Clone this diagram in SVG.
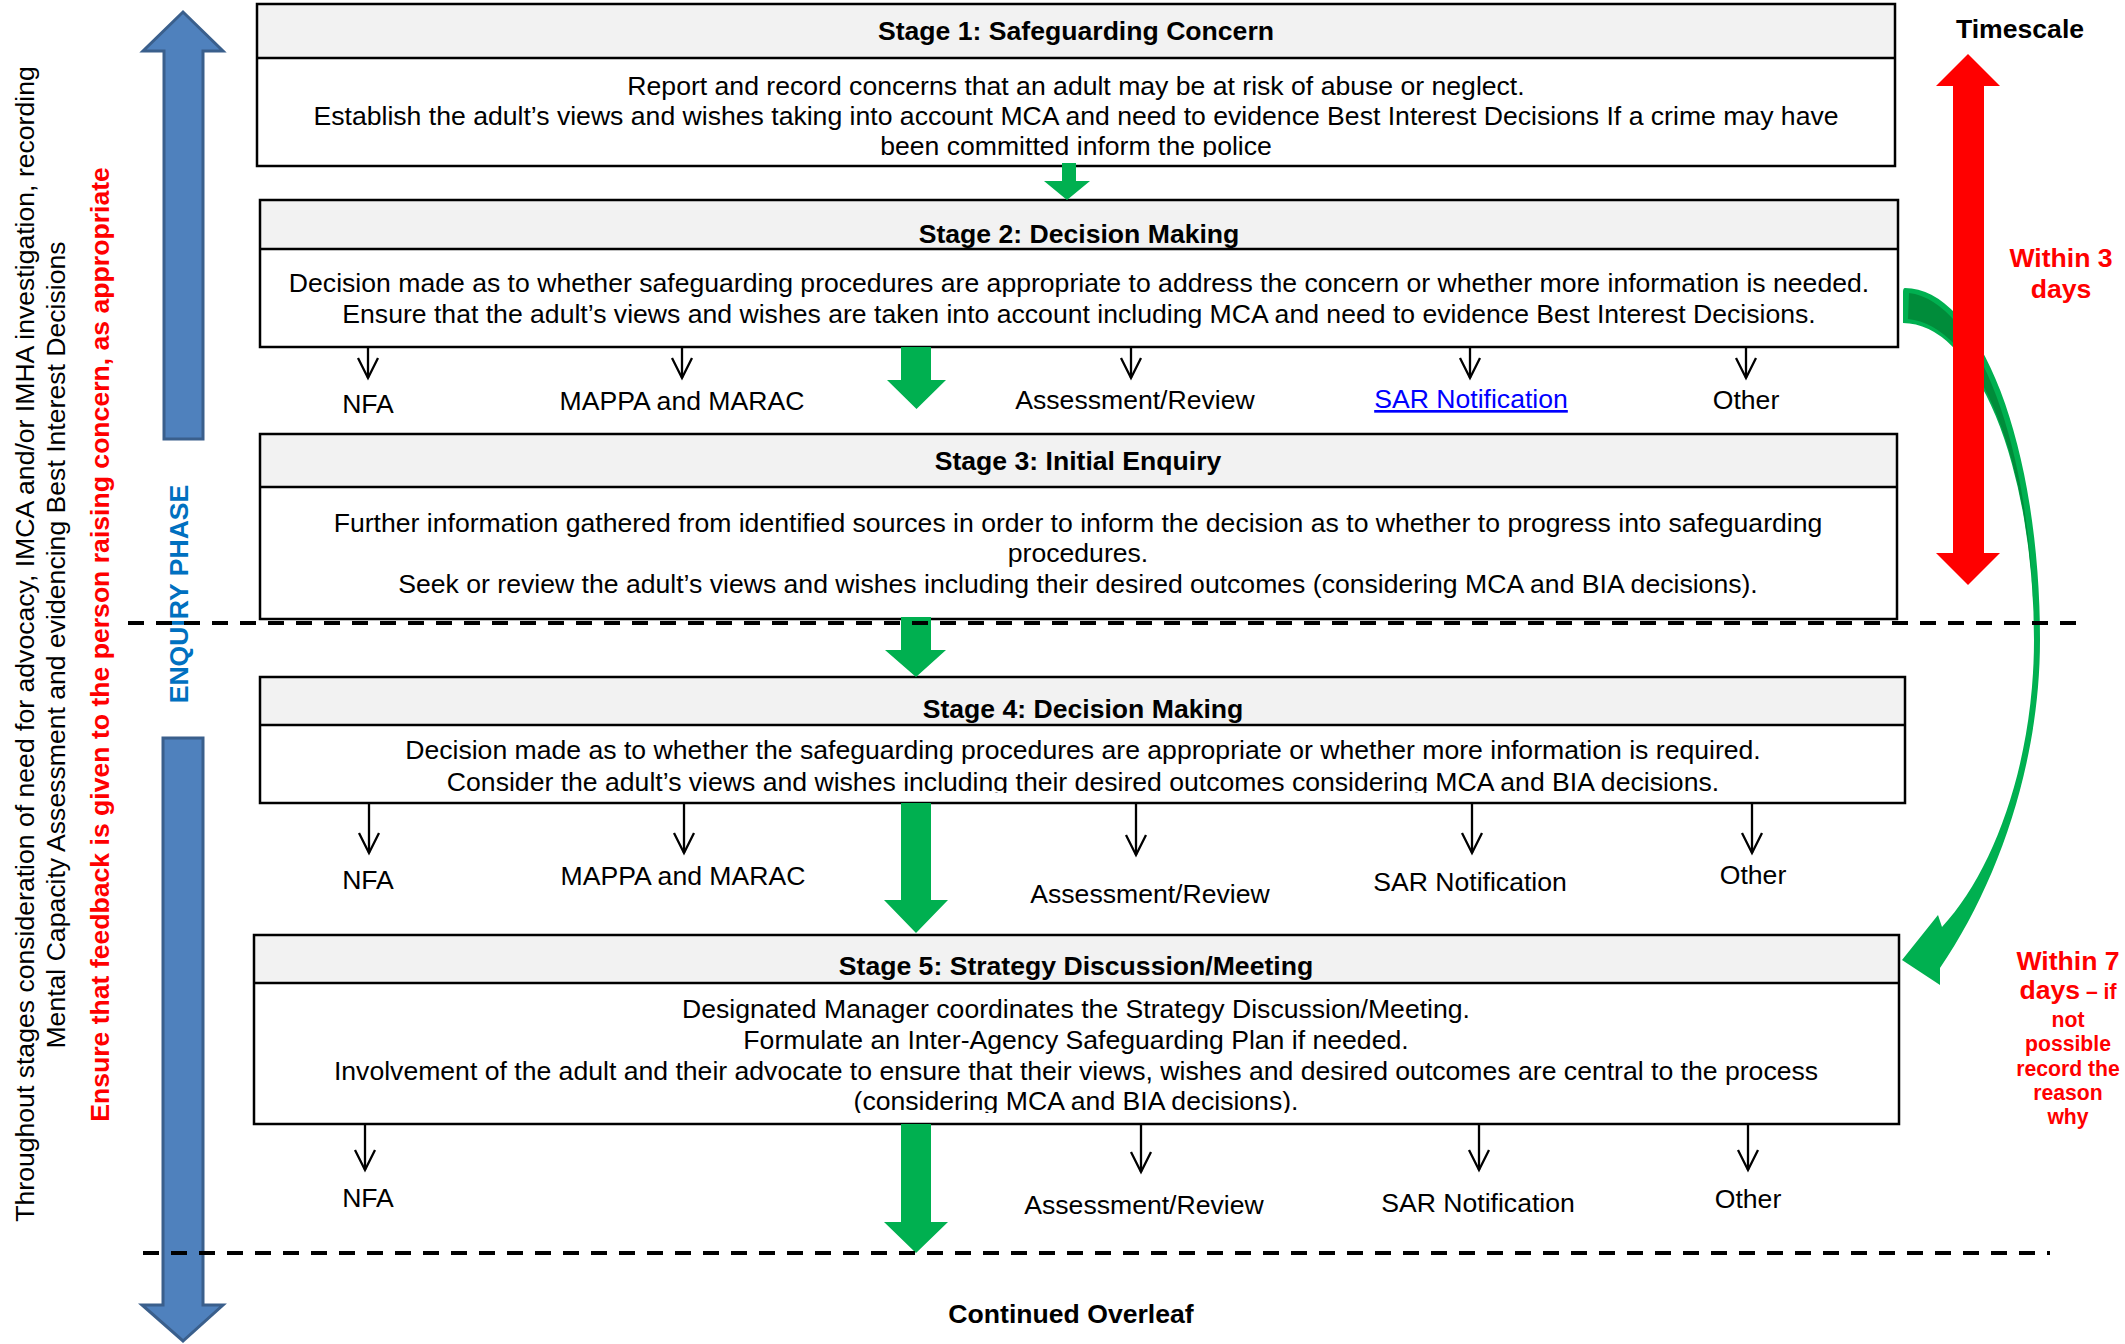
<svg xmlns="http://www.w3.org/2000/svg" width="2125" height="1344" viewBox="0 0 2125 1344">
<style>
text{font-family:"Liberation Sans",Arial,sans-serif;font-size:26.6px;fill:#000}
.t{font-weight:bold;text-anchor:middle}
.b{text-anchor:middle}
.lbl{text-anchor:middle}
.hdr{fill:#F2F2F2}
.box{fill:none;stroke:#000;stroke-width:2.5}
.sep{stroke:#000;stroke-width:2.5}
.sm{stroke:#000;stroke-width:2.3;fill:none}
.grn{fill:#00B050}
.dash{stroke:#000;stroke-width:4;stroke-dasharray:16 12;fill:none}
.red{fill:#FF0000;font-weight:bold;text-anchor:middle}
</style>
<defs>
<marker id="v" markerUnits="userSpaceOnUse" viewBox="-3 -13 26 26" markerWidth="26" markerHeight="26" refX="20" refY="0" orient="auto">
<path d="M0,-10 L20,0 L0,10" fill="none" stroke="#000" stroke-width="2.3"/>
</marker>
<clipPath id="c1"><rect x="257" y="58" width="1638" height="99"/></clipPath>
<clipPath id="c4"><rect x="260" y="725" width="1645" height="68"/></clipPath>
<clipPath id="c5"><rect x="254" y="983" width="1645" height="130"/></clipPath>
</defs>
<rect width="2125" height="1344" fill="#fff"/>

<g id="side-notes">
<text transform="translate(33.5,644) rotate(-90)" text-anchor="middle">Throughout stages consideration of need for advocacy, IMCA and/or IMHA investigation, recording</text>
<text transform="translate(65,645) rotate(-90)" text-anchor="middle">Mental Capacity Assessment and evidencing Best Interest Decisions</text>
<text transform="translate(108.5,644.5) rotate(-90)" text-anchor="middle" style="font-weight:bold;fill:#FF0000">Ensure that feedback is given to the person raising concern, as appropriate</text>
</g>

<g id="enquiry-phase">
<path d="M164,439 V51 H143 L183,12 L223,51 H203 V439 Z" fill="#4F81BD" stroke="#3A5F8C" stroke-width="3"/>
<path d="M163,738 H203 V1305 H223 L183,1341 L142,1305 H163 Z" fill="#4F81BD" stroke="#3A5F8C" stroke-width="3"/>
<text transform="translate(187.5,594) rotate(-90)" text-anchor="middle" style="font-weight:bold;fill:#0070C0">ENQUIRY PHASE</text>
</g>

<g id="stage1">
<rect x="257" y="4" width="1638" height="54" class="hdr"/>
<rect x="257" y="4" width="1638" height="162" class="box"/>
<line x1="257" y1="58" x2="1895" y2="58" class="sep"/>
<text x="1076" y="40" class="t">Stage 1: Safeguarding Concern</text>
<g clip-path="url(#c1)">
<text x="1076" y="95" class="b">Report and record concerns that an adult may be at risk of abuse or neglect.</text>
<text x="1076" y="125" class="b">Establish the adult’s views and wishes taking into account MCA and need to evidence Best Interest Decisions If a crime may have</text>
<text x="1076" y="155" class="b">been committed inform the police</text>
</g>
</g>

<g id="stage2">
<rect x="260" y="200" width="1638" height="49" class="hdr"/>
<rect x="260" y="200" width="1638" height="147" class="box"/>
<line x1="260" y1="249" x2="1898" y2="249" class="sep"/>
<text x="1079" y="243" class="t">Stage 2: Decision Making</text>
<text x="1079" y="292" class="b">Decision made as to whether safeguarding procedures are appropriate to address the concern or whether more information is needed.</text>
<text x="1079" y="323" class="b">Ensure that the adult’s views and wishes are taken into account including MCA and need to evidence Best Interest Decisions.</text>
</g>

<g id="stage2-outcomes">
<text x="368" y="413" class="lbl">NFA</text>
<text x="682" y="410" class="lbl">MAPPA and MARAC</text>
<text x="1135" y="409" class="lbl">Assessment/Review</text>
<text x="1471" y="408" class="lbl" style="fill:#0000FF;text-decoration:underline">SAR Notification</text>
<text x="1746" y="409" class="lbl">Other</text>
</g>

<g id="stage3">
<rect x="260" y="434" width="1637" height="53" class="hdr"/>
<rect x="260" y="434" width="1637" height="185" class="box"/>
<line x1="260" y1="487" x2="1897" y2="487" class="sep"/>
<text x="1078" y="470" class="t">Stage 3: Initial Enquiry</text>
<text x="1078" y="532" class="b">Further information gathered from identified sources in order to inform the decision as to whether to progress into safeguarding</text>
<text x="1078" y="562" class="b">procedures.</text>
<text x="1078" y="593" class="b">Seek or review the adult’s views and wishes including their desired outcomes (considering MCA and BIA decisions).</text>
</g>

<g id="stage4">
<rect x="260" y="677" width="1645" height="48" class="hdr"/>
<rect x="260" y="677" width="1645" height="126" class="box"/>
<line x1="260" y1="725" x2="1905" y2="725" class="sep"/>
<text x="1083" y="718" class="t">Stage 4: Decision Making</text>
<g clip-path="url(#c4)">
<text x="1083" y="759" class="b">Decision made as to whether the safeguarding procedures are appropriate or whether more information is required.</text>
<text x="1083" y="791" class="b">Consider the adult’s views and wishes including their desired outcomes considering MCA and BIA decisions.</text>
</g>
</g>

<g id="stage4-outcomes">
<text x="368" y="889" class="lbl">NFA</text>
<text x="683" y="885" class="lbl">MAPPA and MARAC</text>
<text x="1150" y="903" class="lbl">Assessment/Review</text>
<text x="1470" y="891" class="lbl">SAR Notification</text>
<text x="1753" y="884" class="lbl">Other</text>
</g>

<g id="stage5">
<rect x="254" y="935" width="1645" height="48" class="hdr"/>
<rect x="254" y="935" width="1645" height="189" class="box"/>
<line x1="254" y1="983" x2="1899" y2="983" class="sep"/>
<text x="1076" y="975" class="t">Stage 5: Strategy Discussion/Meeting</text>
<g clip-path="url(#c5)">
<text x="1076" y="1018" class="b">Designated Manager coordinates the Strategy Discussion/Meeting.</text>
<text x="1076" y="1049" class="b">Formulate an Inter-Agency Safeguarding Plan if needed.</text>
<text x="1076" y="1080" class="b">Involvement of the adult and their advocate to ensure that their views, wishes and desired outcomes are central to the process</text>
<text x="1076" y="1110" class="b">(considering MCA and BIA decisions).</text>
</g>
</g>

<g id="stage5-outcomes">
<text x="368" y="1207" class="lbl">NFA</text>
<text x="1144" y="1214" class="lbl">Assessment/Review</text>
<text x="1478" y="1212" class="lbl">SAR Notification</text>
<text x="1748" y="1208" class="lbl">Other</text>
</g>

<g id="timescale">
<text x="2020" y="38" class="t">Timescale</text>
<path d="M1905,288 A135 352 0 0 1 2040,640 C2040,760 2000,880 1940,968 L1940,985 L1902,960 L1938,915 L1942,927 C1995,870 2034,760 2034,640 A131 317 0 0 0 1903,323 L1903,292 Q1903,288 1905,288 Z" fill="#00B050"/>
<path d="M1909,293 A131 347 0 0 1 2034,628 A131 320 0 0 0 1908,319 Z" fill="#008C3A"/>
<path d="M1953,86 H1936 L1968,54 L2000,86 H1984 V553 H2000 L1968,585 L1936,553 H1953 Z" fill="#FF0000"/>
<text x="2061" y="267" class="red">Within 3</text>
<text x="2061" y="298" class="red">days</text>
<text x="2068" y="970" class="red">Within 7</text>
<text x="2068" y="999" class="red">days<tspan style="font-size:21.2px"> – if</tspan></text>
<text x="2068" y="1027" class="red" style="font-size:21.2px">not</text>
<text x="2068" y="1051" class="red" style="font-size:21.2px">possible</text>
<text x="2068" y="1076" class="red" style="font-size:21.2px">record the</text>
<text x="2068" y="1100" class="red" style="font-size:21.2px">reason</text>
<text x="2068" y="1124" class="red" style="font-size:21.2px">why</text>
</g>

<g id="connectors">
<path class="grn" d="M1062,163 H1076 V181 H1090 L1067,200 L1044,181 H1062 Z"/>
<path class="grn" d="M901,347 H931 V380 H946 L916.5,409 L887,380 H901 Z"/>
<path class="grn" d="M901,617 H931 V650 H946 L916,677 L885,650 H901 Z"/>
<path class="grn" d="M901,803 H931 V900 H948 L916,933 L884,900 H901 Z"/>
<path class="grn" d="M901,1124 H931 V1222 H948 L916,1253 L884,1222 H901 Z"/>
<g class="sm">
<line x1="368" y1="347" x2="368" y2="378" marker-end="url(#v)"/>
<line x1="682" y1="347" x2="682" y2="378" marker-end="url(#v)"/>
<line x1="1131" y1="347" x2="1131" y2="378" marker-end="url(#v)"/>
<line x1="1470" y1="347" x2="1470" y2="378" marker-end="url(#v)"/>
<line x1="1746" y1="347" x2="1746" y2="378" marker-end="url(#v)"/>
<line x1="369" y1="803" x2="369" y2="853" marker-end="url(#v)"/>
<line x1="684" y1="803" x2="684" y2="853" marker-end="url(#v)"/>
<line x1="1136" y1="803" x2="1136" y2="855" marker-end="url(#v)"/>
<line x1="1472" y1="803" x2="1472" y2="853" marker-end="url(#v)"/>
<line x1="1752" y1="803" x2="1752" y2="853" marker-end="url(#v)"/>
<line x1="365" y1="1124" x2="365" y2="1170" marker-end="url(#v)"/>
<line x1="1141" y1="1124" x2="1141" y2="1172" marker-end="url(#v)"/>
<line x1="1479" y1="1124" x2="1479" y2="1170" marker-end="url(#v)"/>
<line x1="1748" y1="1124" x2="1748" y2="1170" marker-end="url(#v)"/>
</g>
<line class="dash" x1="128" y1="623" x2="2077" y2="623"/>
<line class="dash" x1="143" y1="1253" x2="2050" y2="1253"/>
</g>

<g id="footer">
<text x="1071" y="1323" class="t">Continued Overleaf</text>
</g>
</svg>
